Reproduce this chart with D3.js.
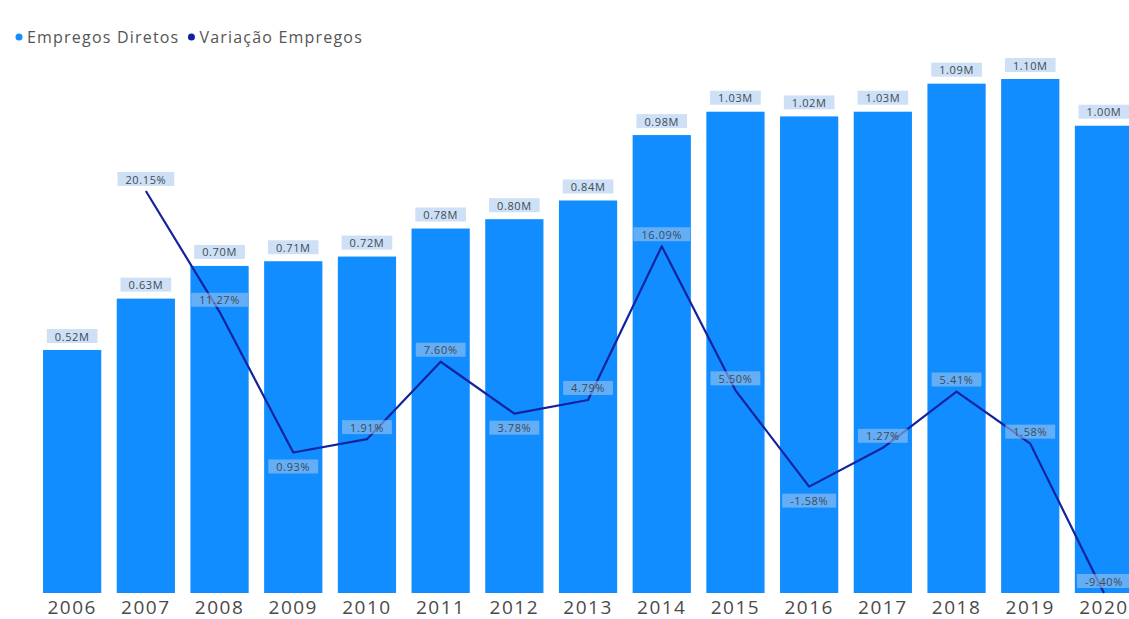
<!DOCTYPE html>
<html>
<head>
<meta charset="utf-8">
<script src="https://cdn.jsdelivr.net/npm/d3@7/dist/d3.min.js"></script>
<style>
  html, body { margin: 0; padding: 0; background: #ffffff; }
  svg { display: block; font-family: "Open Sans", "Noto Sans", sans-serif; }
</style>
</head>
<body>
<svg id="chart" width="1129" height="619"></svg>
<script>
// Empregos diretos por ano (milhões) e variação anual (%)
const years = ["2006","2007","2008","2009","2010","2011","2012","2013","2014","2015","2016","2017","2018","2019","2020"];
const empregos = [0.52, 0.63, 0.70, 0.71, 0.72, 0.78, 0.80, 0.84, 0.98, 1.03, 1.02, 1.03, 1.09, 1.10, 1.00];
const variacaoYears = ["2007","2008","2009","2010","2011","2012","2013","2014","2015","2016","2017","2018","2019","2020"];
const variacao = [20.15, 11.27, 0.93, 1.91, 7.60, 3.78, 4.79, 16.09, 5.50, -1.58, 1.27, 5.41, 1.58, -9.40];
const seriesNames = ["Empregos Diretos", "Variação Empregos"];

const barColor = "#118DFF";
const lineColor = "#12239E";
const labelFill = "rgb(166,200,237)";
const labelOpacity = 0.56;
const labelText = "#404a55";

const svg = d3.select("#chart");

const x = d3.scaleBand()
  .domain(years)
  .range([35.3, 1140.8])
  .paddingInner(0.21)
  .paddingOuter(0.105);

const yBar = d3.scaleLinear().domain([0, 1.10]).range([593, 79]);
const yLine = d3.scaleLinear().domain([-9.40, 20.15]).range([593, 191]);

// Bars
svg.append("g").selectAll("rect")
  .data(years.map((yr, i) => ({ yr, v: empregos[i] })))
  .join("rect")
  .attr("x", d => x(d.yr))
  .attr("y", d => yBar(d.v))
  .attr("width", x.bandwidth())
  .attr("height", d => yBar(0) - yBar(d.v))
  .attr("fill", barColor);

// X axis
const xAxis = svg.append("g")
  .attr("transform", `translate(0,${yBar(0)})`)
  .call(d3.axisBottom(x).tickSize(0).tickPadding(8));
xAxis.select(".domain").remove();
xAxis.selectAll("text")
  .attr("font-family", "'Open Sans', sans-serif")
  .attr("font-size", 19)
  .attr("letter-spacing", "1.5px")
  .attr("fill", "#4a4a4a");

// Line
const lineData = variacaoYears.map((yr, i) => ({ yr, v: variacao[i] }));
const line = d3.line()
  .x(d => x(d.yr) + x.bandwidth() / 2)
  .y(d => yLine(d.v));
svg.append("path")
  .datum(lineData)
  .attr("d", line)
  .attr("fill", "none")
  .attr("stroke", lineColor)
  .attr("stroke-width", 2.2)
  .attr("stroke-linejoin", "round");

// Labels with a soft box behind the text
function addLabel(g, cx, cy, text) {
  const grp = g.append("g");
  const rect = grp.append("rect");
  const t = grp.append("text")
    .attr("x", cx)
    .attr("y", cy)
    .attr("text-anchor", "middle")
    .attr("dominant-baseline", "central")
    .attr("font-size", 11)
    .attr("letter-spacing", "0.6px")
    .attr("fill", labelText)
    .text(text);
  const w = t.node().getComputedTextLength() + 16;
  rect.attr("x", cx - w / 2).attr("y", cy - 7)
    .attr("width", w).attr("height", 14)
    .attr("fill", labelFill).attr("fill-opacity", labelOpacity);
}

const labels = svg.append("g");
years.forEach((yr, i) => {
  const cx = x(yr) + x.bandwidth() / 2;
  addLabel(labels, cx, yBar(empregos[i]) - 14, empregos[i].toFixed(2) + "M");
});
lineData.forEach((d, i) => {
  const cx = x(d.yr) + x.bandwidth() / 2;
  const prev = lineData[i - 1], next = lineData[i + 1];
  const below = prev && next && d.v < prev.v && d.v < next.v;
  const cy = yLine(d.v) + (below ? 14 : -12);
  addLabel(labels, cx, cy, d.v.toFixed(2) + "%");
});

// Legend
const legend = svg.append("g").attr("transform", "translate(0,37)");
const legendColors = [barColor, lineColor];
let lx = 19;
seriesNames.forEach((name, i) => {
  legend.append("circle").attr("cx", lx).attr("cy", 0).attr("r", 3.5).attr("fill", legendColors[i]);
  const t = legend.append("text")
    .attr("x", lx + 8)
    .attr("y", 0)
    .attr("dominant-baseline", "central")
    .attr("font-size", 16)
    .attr("letter-spacing", "1.2px")
    .attr("fill", "#555")
    .text(name);
  lx += 8 + t.node().getComputedTextLength() + 12;
});
</script>
</body>
</html>
